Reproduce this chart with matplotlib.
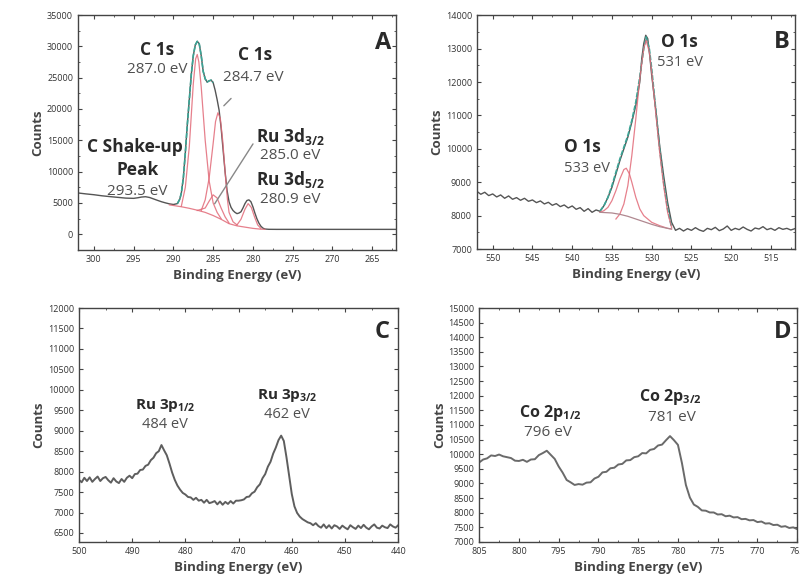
import matplotlib
matplotlib.use('Agg')
import matplotlib.pyplot as plt
from matplotlib.ticker import MultipleLocator

plt.rcParams['font.family'] = ['Open Sans', 'DejaVu Sans']
plt.rcParams['mathtext.fontset'] = 'custom'
plt.rcParams['mathtext.rm'] = 'Open Sans'
plt.rcParams['mathtext.bf'] = 'Open Sans:bold'
plt.rcParams['mathtext.default'] = 'bf'

# ---------- panel A : C 1s / Ru 3d ----------
a_e = [302, 301, 300, 299, 298, 297, 296, 295, 294.5, 294, 293.5, 293, 292.5, 292,
       291.5, 291, 290.5, 290, 289.5, 289.2, 289, 288.75, 288.5, 288.25, 288, 287.75,
       287.5, 287.25, 287, 286.75, 286.5, 286.25, 286, 285.75, 285.5, 285.25, 285,
       284.75, 284.5, 284.25, 284, 283.75, 283.5, 283.25, 283, 282.75, 282.5, 282.25,
       282, 281.75, 281.5, 281.25, 281, 280.75, 280.5, 280.25, 280, 279.75, 279.5,
       279.25, 279, 278.75, 278.5, 278, 277, 275, 273, 271, 269, 267, 265, 263, 262]
a_counts = [6600, 6450, 6320, 6150, 6020, 5900, 5780, 5740, 5830, 5950, 6000, 5880,
            5650, 5420, 5200, 5020, 4860, 4760, 4900, 5600, 6600, 9000, 13000, 17500,
            21500, 25500, 28500, 30200, 30800, 30400, 28500, 26000, 24800, 24300, 24500,
            24600, 24200, 23000, 21500, 19800, 17000, 13500, 10000, 7000, 5200, 4300,
            3800, 3500, 3300, 3400, 3600, 4200, 4900, 5400, 5500, 5200, 4400, 3400, 2500,
            1800, 1300, 1000, 850, 800, 790, 790, 790, 790, 790, 790, 790, 790, 790]

a_env_e = [289.5, 289.2, 289, 288.75, 288.5, 288.25, 288, 287.75, 287.5, 287.25, 287,
           286.75, 286.5, 286.25, 286, 285.75, 285.5, 285.25, 285]
a_env = [4900, 5600, 6600, 9000, 13000, 17500, 21500, 25500, 28500, 30200, 30800,
         30400, 28500, 26000, 24800, 24300, 24500, 24600, 24200]

a_c287_e = [289, 288.5, 288, 287.5, 287.2, 287, 286.8, 286.5, 286, 285.5, 285, 284.5, 284]
a_c287 = [4500, 7500, 14000, 24000, 28000, 28700, 27500, 23500, 15000, 8500, 5000, 3500, 2500]

a_c284_e = [286.5, 286, 285.5, 285, 284.7, 284.4, 284.1, 283.8, 283.5, 283.2, 283, 282.5, 282]
a_c284 = [3800, 5500, 9000, 14500, 18000, 19400, 18500, 15000, 10000, 5500, 3500, 2000, 1500]

a_ru32_e = [287, 286, 285.5, 285, 284.5, 284, 283.5, 283]
a_ru32 = [3800, 4200, 5300, 6300, 5800, 4200, 2800, 1800]

a_ru52_e = [282, 281.5, 281, 280.6, 280.2, 279.8, 279.4, 279]
a_ru52 = [1500, 2400, 4000, 4900, 4300, 2800, 1500, 950]

a_bg_e = [290.5, 290, 289, 288, 287, 286, 285, 284, 283, 282, 281, 280, 279, 278.5]
a_bg = [4700, 4600, 4400, 4150, 3850, 3500, 3000, 2400, 1700, 1350, 1150, 950, 820, 800]

# ---------- panel B : O 1s ----------
b_e = [552, 551.5, 551, 550.5, 550, 549.5, 549, 548.5, 548, 547.5, 547, 546.5, 546,
       545.5, 545, 544.5, 544, 543.5, 543, 542.5, 542, 541.5, 541, 540.5, 540, 539.5,
       539, 538.5, 538, 537.5, 537, 536.5, 536, 535.5, 535, 534.5, 534, 533.5, 533,
       532.5, 532, 531.5, 531.25, 531, 530.75, 530.5, 530.25, 530, 529.5, 529, 528.5,
       528, 527.5, 527, 526.5, 526, 525.5, 525, 524.5, 524, 523.5, 523, 522.5, 522,
       521.5, 521, 520.5, 520, 519.5, 519, 518.5, 518, 517.5, 517, 516.5, 516, 515.5,
       515, 514.5, 514, 513.5, 513, 512.5, 512]
b_counts = [8730, 8640, 8700, 8600, 8650, 8560, 8620, 8520, 8590, 8490, 8540, 8460,
            8520, 8430, 8470, 8390, 8440, 8350, 8400, 8310, 8360, 8270, 8320, 8230,
            8290, 8190, 8240, 8130, 8210, 8100, 8170, 8130, 8300, 8550, 8850, 9250,
            9650, 10000, 10350, 10800, 11300, 12000, 12700, 13150, 13400, 13300, 12800,
            12200, 11200, 10100, 9200, 8400, 7800, 7560, 7620, 7540, 7610, 7560, 7640,
            7570, 7530, 7620, 7580, 7650, 7550, 7600, 7690, 7560, 7620, 7580, 7660,
            7590, 7540, 7630, 7600, 7670, 7580, 7620, 7560, 7640, 7590, 7620, 7570, 7610]

b_env_e = [536.5, 536, 535.5, 535, 534.5, 534, 533.5, 533, 532.5, 532, 531.5, 531,
           530.7, 530.3, 530, 529.5, 529, 528.5, 528, 527.5]
b_env = [8140, 8300, 8550, 8900, 9300, 9700, 10050, 10400, 10850, 11400, 12150, 13000,
         13350, 13000, 12400, 11200, 10000, 9000, 8200, 7650]

b_o531_e = [534.5, 534, 533.5, 533, 532.5, 532, 531.5, 531, 530.7, 530.3, 530, 529.5,
            529, 528.5, 528, 527.5]
b_o531 = [7900, 8050, 8350, 8900, 9800, 10900, 12100, 13000, 13250, 12900, 12300,
          11100, 9900, 8900, 8100, 7650]

b_o533_e = [536.5, 536, 535.5, 535, 534.5, 534, 533.5, 533.2, 532.8, 532.5, 532, 531.5,
            531, 530, 529, 528, 527.5]
b_o533 = [8100, 8150, 8250, 8450, 8750, 9100, 9380, 9420, 9250, 9000, 8550, 8200, 8000,
          7800, 7700, 7620, 7600]

b_bg_e = [536.5, 535, 534, 533, 532, 531, 530, 529, 528, 527.5]
b_bg = [8100, 8080, 8040, 7980, 7900, 7820, 7740, 7670, 7620, 7600]

# ---------- panel C : Ru 3p ----------
c_e = [500, 499.5, 499, 498.5, 498, 497.5, 497, 496.5, 496, 495.5, 495, 494.5, 494,
       493.5, 493, 492.5, 492, 491.5, 491, 490.5, 490, 489.5, 489, 488.5, 488, 487.5,
       487, 486.5, 486, 485.5, 485, 484.5, 484, 483.5, 483, 482.5, 482, 481.5, 481,
       480.5, 480, 479.5, 479, 478.5, 478, 477.5, 477, 476.5, 476, 475.5, 475, 474.5,
       474, 473.5, 473, 472.5, 472, 471.5, 471, 470.5, 470, 469.5, 469, 468.5, 468,
       467.5, 467, 466.5, 466, 465.5, 465, 464.5, 464, 463.5, 463, 462.5, 462, 461.5,
       461, 460.5, 460, 459.5, 459, 458.5, 458, 457.5, 457, 456.5, 456, 455.5, 455,
       454.5, 454, 453.5, 453, 452.5, 452, 451.5, 451, 450.5, 450, 449.5, 449, 448.5,
       448, 447.5, 447, 446.5, 446, 445.5, 445, 444.5, 444, 443.5, 443, 442.5, 442,
       441.5, 441, 440.5, 440]
c_counts = [7800, 7740, 7850, 7770, 7860, 7750, 7820, 7880, 7770, 7840,
            7870, 7790, 7730, 7840, 7760, 7720, 7820, 7750, 7850, 7900,
            7840, 7940, 7950, 8040, 8050, 8140, 8170, 8280, 8340, 8450,
            8500, 8650, 8520, 8400, 8200, 7980, 7800, 7660, 7560, 7480,
            7440, 7380, 7370, 7310, 7360, 7290, 7310, 7240, 7310, 7230,
            7250, 7280, 7200, 7270, 7190, 7260, 7210, 7280, 7220, 7290,
            7290, 7300, 7320, 7380, 7390, 7470, 7510, 7620, 7690, 7840,
            7940, 8120, 8240, 8440, 8590, 8770, 8880, 8750, 8350, 7900,
            7450, 7150, 6990, 6900, 6840, 6800, 6760, 6740, 6690, 6740,
            6670, 6630, 6710, 6620, 6690, 6610, 6690, 6660, 6600, 6680,
            6630, 6590, 6690, 6640, 6600, 6680, 6620, 6700, 6630, 6590,
            6660, 6710, 6630, 6610, 6680, 6640, 6620, 6710, 6660, 6630,
            6690]

# ---------- panel D : Co 2p ----------
d_e = [805, 804.5, 804, 803.5, 803, 802.5, 802, 801.5, 801, 800.5, 800, 799.5, 799,
       798.5, 798, 797.5, 797, 796.5, 796, 795.5, 795, 794.5, 794, 793.5, 793, 792.5,
       792, 791.5, 791, 790.5, 790, 789.5, 789, 788.5, 788, 787.5, 787, 786.5, 786,
       785.5, 785, 784.5, 784, 783.5, 783, 782.5, 782, 781.5, 781, 780.5, 780, 779.5,
       779, 778.5, 778, 777.5, 777, 776.5, 776, 775.5, 775, 774.5, 774, 773.5, 773,
       772.5, 772, 771.5, 771, 770.5, 770, 769.5, 769, 768.5, 768, 767.5, 767, 766.5,
       766, 765.5, 765]
d_counts = [9720, 9820, 9860, 9960, 9940, 9990, 9930, 9900, 9870, 9780,
            9770, 9810, 9740, 9820, 9830, 9970, 10040, 10120, 9980, 9840,
            9580, 9370, 9120, 9040, 8950, 8980, 8960, 9030, 9040, 9170,
            9230, 9380, 9400, 9520, 9540, 9650, 9670, 9790, 9800, 9900,
            9930, 10040, 10030, 10150, 10180, 10300, 10330, 10480, 10620, 10480,
            10320, 9700, 8950, 8520, 8280, 8200, 8080, 8070, 8010, 8010,
            7940, 7950, 7880, 7900, 7840, 7850, 7780, 7790, 7740, 7750,
            7680, 7700, 7630, 7640, 7580, 7590, 7520, 7540, 7480, 7500,
            7440]

RAW = '#555555'
TEAL = '#3aa596'
RED = '#e26a78'
TXT = '#2a2a2a'
VAL = '#505050'


def style(ax, xlim, xmaj, xmin, ylim, ymaj, ymin):
    ax.set_xlim(*xlim)
    ax.set_ylim(*ylim)
    ax.xaxis.set_major_locator(MultipleLocator(xmaj))
    ax.xaxis.set_minor_locator(MultipleLocator(xmin))
    ax.yaxis.set_major_locator(MultipleLocator(ymaj))
    if ymin:
        ax.yaxis.set_minor_locator(MultipleLocator(ymin))
    ax.tick_params(which='both', direction='in', top=True, right=True,
                   colors='#444444', labelsize=6.5, labelcolor='#333333')
    ax.tick_params(which='major', length=3, width=0.8)
    ax.tick_params(which='minor', length=1.5, width=0.6)
    for s in ax.spines.values():
        s.set_color('#444444')
        s.set_linewidth(1.0)
    ax.set_xlabel('Binding Energy (eV)', fontsize=9.5, fontweight='bold', color='#444444', labelpad=4)
    ax.set_ylabel('Counts', fontsize=9.5, fontweight='bold', color='#444444', labelpad=6)
    ax.yaxis.set_label_coords(-0.105, 0.5)


def label(ax, x, y, s, bold=True, size=10):
    ax.text(x, y, s, transform=ax.transAxes, ha='center', va='center', fontsize=size,
            fontweight='bold' if bold else 'normal', color=TXT if bold else VAL)


fig = plt.figure(figsize=(8, 5.86), dpi=100)

# panel A
ax = fig.add_axes([0.0975, 0.5734, 0.3975, 0.401])
ax.plot(a_e, a_counts, color=RAW, lw=1.0)
ax.plot(a_env_e, a_env, color=TEAL, lw=1.2, ls=(0, (3, 1)))
for xe, yc in [(a_c287_e, a_c287), (a_c284_e, a_c284), (a_ru32_e, a_ru32),
               (a_ru52_e, a_ru52), (a_bg_e, a_bg)]:
    ax.plot(xe, yc, color=RED, lw=0.9, alpha=0.85)
ax.annotate('', xy=(283.9, 20200), xytext=(282.5, 22000),
            arrowprops=dict(arrowstyle='-', color='#888888', lw=1.0))
ax.annotate('', xy=(285.0, 4500), xytext=(279.8, 14800),
            arrowprops=dict(arrowstyle='-', color='#888888', lw=1.0))
style(ax, (302, 262), 5, 2.5, (-2500, 35000), 5000, 2500)
label(ax, 0.248, 0.851, 'C 1s', size=12.5)
label(ax, 0.248, 0.766, '287.0 eV', bold=False, size=11)
label(ax, 0.557, 0.830, 'C 1s', size=12.5)
label(ax, 0.550, 0.732, '284.7 eV', bold=False, size=11)
label(ax, 0.179, 0.438, 'C Shake-up', size=12.5)
label(ax, 0.186, 0.340, 'Peak', size=12.5)
label(ax, 0.186, 0.247, '293.5 eV', bold=False, size=11)
label(ax, 0.667, 0.481, 'Ru 3d$_{3/2}$', size=12.5)
label(ax, 0.667, 0.404, '285.0 eV', bold=False, size=11)
label(ax, 0.667, 0.298, 'Ru 3d$_{5/2}$', size=12.5)
label(ax, 0.667, 0.213, '280.9 eV', bold=False, size=11)
label(ax, 0.959, 0.881, 'A', size=17)

# panel B
ax = fig.add_axes([0.596, 0.575, 0.3975, 0.399])
ax.plot(b_e, b_counts, color=RAW, lw=1.0)
ax.plot(b_env_e, b_env, color=TEAL, lw=1.2, ls=(0, (3, 1)))
for xe, yc in [(b_o531_e, b_o531), (b_o533_e, b_o533)]:
    ax.plot(xe, yc, color=RED, lw=0.9, alpha=0.85)
ax.plot(b_bg_e, b_bg, color='#b08890', lw=0.9)
style(ax, (552, 512), 5, 2.5, (7000, 14000), 1000, 500)
label(ax, 0.638, 0.885, 'O 1s', size=12.5)
label(ax, 0.638, 0.799, '531 eV', bold=False, size=10.5)
label(ax, 0.333, 0.436, 'O 1s', size=12.5)
label(ax, 0.346, 0.346, '533 eV', bold=False, size=10.5)
label(ax, 0.959, 0.885, 'B', size=17)

# panel C
ax = fig.add_axes([0.09875, 0.0751, 0.399, 0.3993])
ax.plot(c_e, c_counts, color='#5e5e5e', lw=1.4)
style(ax, (500, 440), 10, 5, (6280, 12000), 500, None)
label(ax, 0.270, 0.585, 'Ru 3p$_{1/2}$', size=11)
label(ax, 0.270, 0.500, '484 eV', bold=False, size=10.5)
label(ax, 0.652, 0.628, 'Ru 3p$_{3/2}$', size=11)
label(ax, 0.652, 0.543, '462 eV', bold=False, size=10.5)
label(ax, 0.950, 0.897, 'C', size=17)

# panel D
ax = fig.add_axes([0.599, 0.0751, 0.3975, 0.3993])
ax.plot(d_e, d_counts, color='#6a6a6a', lw=1.4)
style(ax, (805, 765), 5, 2.5, (7000, 15000), 500, None)
label(ax, 0.223, 0.551, 'Co 2p$_{1/2}$', size=11.5)
label(ax, 0.217, 0.466, '796 eV', bold=False, size=11)
label(ax, 0.600, 0.620, 'Co 2p$_{3/2}$', size=11.5)
label(ax, 0.607, 0.530, '781 eV', bold=False, size=11)
label(ax, 0.953, 0.897, 'D', size=17)

fig.savefig('out.png', dpi=100)
